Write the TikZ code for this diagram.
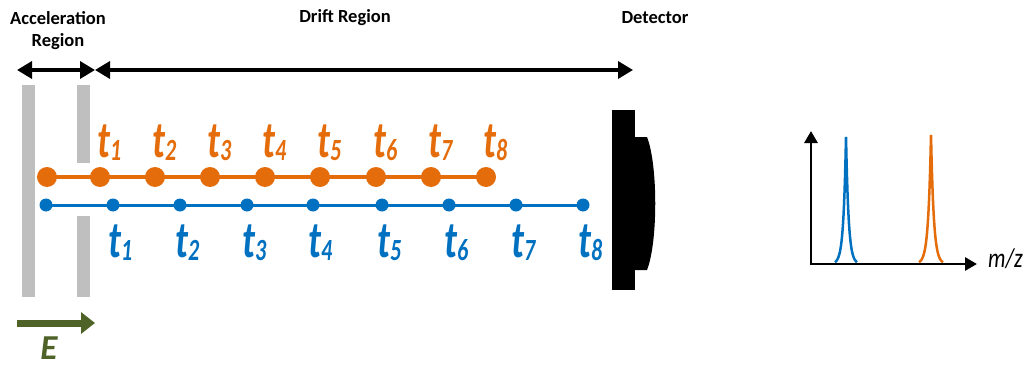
\documentclass[tikz,border=0pt]{standalone}
\usepackage{fontspec}
\usepackage{graphicx}
\setmainfont{Carlito}
\usetikzlibrary{arrows.meta,calc}
\definecolor{ora}{HTML}{E46C0A}
\definecolor{blu}{HTML}{0070C0}
\definecolor{gry}{HTML}{BFBFBF}
\definecolor{grn}{HTML}{4F6228}
\newcommand\tlab[1]{\scalebox{1}[1.4]{t\raisebox{-2.5pt}{\fontsize{22}{22}\selectfont #1}}}
\tikzset{
  odot/.style={circle,fill=ora,inner sep=0pt,minimum size=20pt},
  bdot/.style={circle,fill=blu,inner sep=0pt,minimum size=13pt},
  olab/.style={text=ora,font=\fontsize{37}{40}\selectfont\bfseries\itshape,anchor=base west,inner sep=0pt},
  blab/.style={text=blu,font=\fontsize{37}{40}\selectfont\bfseries\itshape,anchor=base west,inner sep=0pt},
  title/.style={font=\fontsize{18.5}{22}\selectfont\bfseries,align=center,inner sep=0pt},
  plate/.style={fill=gry,draw=none},
  dim/.style={line width=3.5pt,{Triangle[length=15pt,width=17pt]}-{Triangle[length=15pt,width=17pt]}},
  axis/.style={line width=2.8pt,-{Triangle[length=12pt,width=13pt]}},
}
\begin{document}
\begin{tikzpicture}[x=1pt,y=-1pt]
\useasboundingbox (0,0) rectangle (1025,369);
% plates
\fill[plate] (22,85) rectangle (35,297);
\fill[plate] (77,85) rectangle (90,163);
\fill[plate] (77,216) rectangle (90,297);
% titles
\node[title] (acc) at (58,31) {Acceleration\\Region};
\node[title] (drift) at (345,18) {Drift Region};
\node[title] (det) at (655,18) {Detector};
% dimension arrows
\coordinate (a1) at (17,70);
\coordinate (a2) at (95,70);
\coordinate (a3) at (633,70);
\draw[dim] (a1) -- (a2);
\draw[dim] (a2) -- (a3);
% detector
\fill[black] (612,110) rectangle (635,290);
\fill[black] (634,137) -- (647,137) .. controls (658,165) and (658,242) .. (647,270) -- (634,270) -- cycle;
% orange ions
\foreach \i/\x in {0/47,1/100,2/155,3/210,4/265,5/320,6/376,7/431,8/486}{
  \coordinate (o\i) at (\x,177);
}
\draw[ora,line width=3.5pt] (o0) -- (o8);
\foreach \i in {0,...,8}{
  \node[odot] (od\i) at (o\i) {};
}
\foreach \i in {1,...,8}{
  \node[olab] (ot\i) at ($(o\i)+(-3,-20)$) {\tlab{\i}};
}
% blue ions
\foreach \i/\x in {0/46,1/113,2/180,3/247,4/313,5/382,6/449,7/516,8/583}{
  \coordinate (b\i) at (\x,205);
}
\draw[blu,line width=3pt] (b0) -- (b8);
\foreach \i in {0,...,8}{
  \node[bdot] (bd\i) at (b\i) {};
}
\foreach \i in {1,...,8}{
  \node[blab] (bt\i) at ($(b\i)+(-5,52)$) {\tlab{\i}};
}
% field arrow
\coordinate (e1) at (17,323);
\coordinate (e2) at (95,323);
\draw[grn,line width=7pt,-{Triangle[length=14pt,width=21pt]}] (e1) -- (e2);
\node[text=grn,font=\fontsize{35}{38}\selectfont\bfseries\itshape,anchor=base,inner sep=0pt] (E) at (49,359) {E};
% spectrum
\coordinate (O) at (811,264);
\coordinate (ytop) at (811,131);
\coordinate (xend) at (977,264);
\draw[blu,line width=2.5pt] plot[domain=-11:11,samples=45] ({846+\x},{264-127*exp(-abs(\x)/2.6)});
\draw[ora,line width=2.5pt] plot[domain=-12:12,samples=49] ({931+\x},{264-129*exp(-abs(\x)/2.8)});
\draw[axis] (O) -- (ytop);
\draw[axis] ($(O)+(-1.4,0)$) -- (xend);
\node[font=\fontsize{22}{24}\selectfont\itshape,anchor=base west,inner sep=0pt] (mz) at (988,267) {\scalebox{1}[1.25]{m/z}};
\end{tikzpicture}
\end{document}
